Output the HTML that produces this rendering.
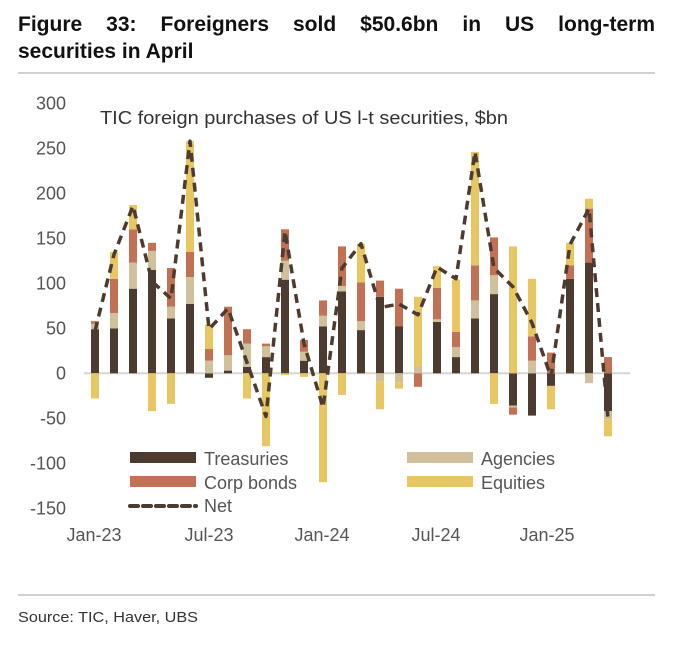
<!DOCTYPE html>
<html><head><meta charset="utf-8"><style>
body{margin:0;background:#fff;width:700px;height:650px;overflow:hidden;font-family:"Liberation Sans",sans-serif;}
.t{position:absolute;left:18px;width:637px;font-weight:bold;font-size:21px;line-height:23px;color:#111;text-align:justify;text-align-last:left;}
</style></head><body>
<div class="t" style="top:13px;text-align-last:justify">Figure 33: Foreigners sold $50.6bn in US long-term</div>
<div class="t" style="top:40px">securities in April</div>
<svg id="s" width="700" height="650" style="position:absolute;left:0;top:0" font-family="Liberation Sans, sans-serif"></svg>
<script>
var T=[49,50,94,115,61,77,-5,3,7,18,104,14,52,91,48,85,52,0,57,18,61,88,-36,-47,-14,105,123,-42];
var A=[6,17,29,21,13,30,14,17,26,12,21,10,12,6,10,-9,-10,8,3,11,20,21,-2,14,0,0,-11,-9];
var C=[3,38,37,9,43,28,13,54,16,3,35,13,17,44,43,18,42,-15,35,17,39,42,-8,27,23,15,60,18];
var E=[-28,30,27,-42,-34,123,27,0,-28,-81,-2,-4,-121,-24,43,-31,-7,77,24,58,126,-34,141,64,-26,25,11,-19];
var N=[47,132,186,102,83,258,49,72,12,-48,158,33,-38,117,144,73,77,65,118,105,246,117,96,56,-4,143,183,-50];
var s='',z=373.3,k=0.9;
s+='<line x1="18" y1="73" x2="655" y2="73" stroke="#d0d0d0" stroke-width="2"/>';
s+='<line x1="18" y1="595" x2="655" y2="595" stroke="#d0d0d0" stroke-width="2"/>';
s+='<text x="18" y="622" font-size="15" fill="#333" textLength="180" lengthAdjust="spacingAndGlyphs">Source: TIC, Haver, UBS</text>';
s+='<text x="100" y="124" font-size="18" fill="#333" textLength="408" lengthAdjust="spacingAndGlyphs">TIC foreign purchases of US l-t securities, $bn</text>';
[300,250,200,150,100,50,0,-50,-100,-150].forEach(function(v){s+='<text x="66" y="'+(z-v*k+6)+'" text-anchor="end" font-size="18" fill="#555">'+v+'</text>';});
[['Jan-23',94],['Jul-23',209],['Jan-24',322],['Jul-24',436],['Jan-25',547]].forEach(function(a){s+='<text x="'+a[1]+'" y="541" text-anchor="middle" font-size="18" fill="#555">'+a[0]+'</text>';});
s+='<line x1="84" y1="'+z+'" x2="630" y2="'+z+'" stroke="#d5d5d5" stroke-width="2"/>';
var col=['#4d3b2f','#d2bf9c','#c37155','#e8c762'];
var pts=[];
for(var i=0;i<28;i++){var x=95+19*i,p=0,n=0,vs=[T[i],A[i],C[i],E[i]];
for(var j=0;j<4;j++){var v=vs[j];if(!v)continue;
if(v>0){s+='<rect x="'+(x-4)+'" y="'+(z-(p+v)*k)+'" width="8" height="'+(v*k)+'" fill="'+col[j]+'"/>';p+=v;}
else{s+='<rect x="'+(x-4)+'" y="'+(z-n*k)+'" width="8" height="'+(-v*k)+'" fill="'+col[j]+'"/>';n+=v;}}
pts.push(x+','+(z-N[i]*k));}
s+='<polyline points="'+pts.join(' ')+'" fill="none" stroke="#4d3b2f" stroke-width="3.5" stroke-dasharray="9,6" stroke-linejoin="round"/>';
function lg(x,y,c,t){s+='<rect x="'+x+'" y="'+y+'" width="66" height="11" fill="'+c+'"/><text x="'+(x+74)+'" y="'+(y+13)+'" font-size="18" fill="#555">'+t+'</text>';}
lg(130,452,col[0],'Treasuries');lg(407,452,col[1],'Agencies');lg(130,476,col[2],'Corp bonds');lg(407,476,col[3],'Equities');
s+='<line x1="130" y1="506" x2="196" y2="506" stroke="#4d3b2f" stroke-width="4" stroke-dasharray="8,5" stroke-linecap="round"/>';
s+='<text x="204" y="512" font-size="18" fill="#555">Net</text>';
document.getElementById('s').innerHTML=s;
</script>
</body></html>
